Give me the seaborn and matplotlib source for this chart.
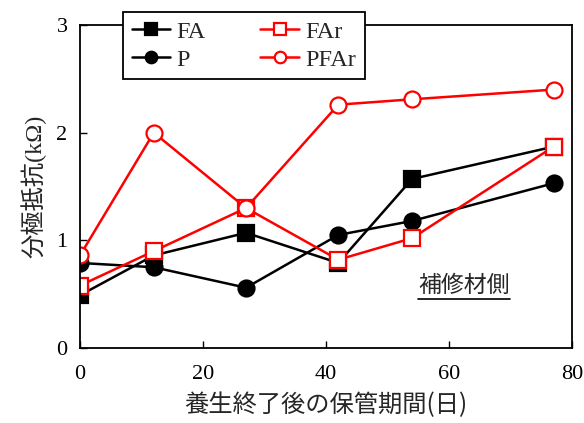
import numpy as np
import pandas as pd
import seaborn as sns
import matplotlib.pyplot as plt

# 養生終了後の保管期間(日)
days = [0, 12, 27, 42, 54, 77]

# 分極抵抗(kΩ)
fa = [0.49, 0.86, 1.07, 0.79, 1.57, 1.87]
p = [0.79, 0.75, 0.56, 1.05, 1.18, 1.53]
far = [0.58, 0.90, 1.30, 0.82, 1.02, 1.87]
pfar = [0.86, 2.00, 1.30, 2.26, 2.31, 2.40]

series_names = ['FA', 'P', 'FAr', 'PFAr']
series_values = [fa, p, far, pfar]

sns.set_style('ticks', {'xtick.direction': 'in', 'ytick.direction': 'in'})
plt.rcParams['font.family'] = ['Liberation Serif', 'Noto Sans CJK JP', 'DejaVu Sans']
plt.rcParams['axes.unicode_minus'] = False

df = pd.DataFrame({
    'days': days * len(series_names),
    'value': np.concatenate(series_values),
    'series': np.repeat(series_names, len(days)),
})

styles = {
    'FA': dict(color='black', marker='s', markerfacecolor='black'),
    'P': dict(color='black', marker='o', markerfacecolor='black'),
    'FAr': dict(color='red', marker='s', markerfacecolor='white'),
    'PFAr': dict(color='red', marker='o', markerfacecolor='white'),
}

fig = plt.figure(figsize=(5.84, 4.23), dpi=100)
ax = fig.add_axes([80 / 584, 1 - 348 / 423, 492 / 584, 323 / 423])

for name in series_names:
    st = styles[name]
    sns.lineplot(data=df[df['series'] == name], x='days', y='value', ax=ax,
                 color=st['color'], marker=st['marker'],
                 markerfacecolor=st['markerfacecolor'],
                 markeredgecolor=st['color'], markeredgewidth=1.6,
                 markersize=11.5, linewidth=1.8, label=name)

ax.set_xlim(0, 80)
ax.set_ylim(0, 3)
ax.set_xticks([0, 20, 40, 60, 80])
ax.set_yticks([0, 1, 2, 3])
ax.tick_params(labelsize=16, length=5, width=1, colors='black')
ax.tick_params(axis='x', pad=12)
ax.tick_params(axis='y', pad=9)
for s in ax.spines.values():
    s.set_color('black')
    s.set_linewidth(1.3)

ax.set_xlabel('養生終了後の保管期間(日)', fontsize=17.5,
              family=['Noto Sans CJK JP', 'Liberation Serif'], labelpad=6)
ax.set_ylabel('分極抵抗(kΩ)', fontsize=17.5,
              family=['Liberation Serif', 'Noto Sans CJK JP'], labelpad=7)

ax.text(0.78, 0.193, '補修材側', transform=ax.transAxes, fontsize=16.5,
        family=['Noto Sans CJK JP'], ha='center', va='center')
ax.plot([0.687, 0.873], [0.152, 0.152], transform=ax.transAxes,
        color='black', linewidth=1.2)

leg = ax.legend(ncol=2, loc='upper left', bbox_to_anchor=(123 / 584, 1 - 12 / 423),
                bbox_transform=fig.transFigure, borderaxespad=0, fancybox=False,
                framealpha=1, edgecolor='black', fontsize=17.5, handlelength=1.6,
                handletextpad=0.25, columnspacing=2.25, labelspacing=0.25,
                borderpad=0.35, markerscale=0.72)
leg.get_frame().set_linewidth(1.3)

plt.savefig('out.png', dpi=100)
